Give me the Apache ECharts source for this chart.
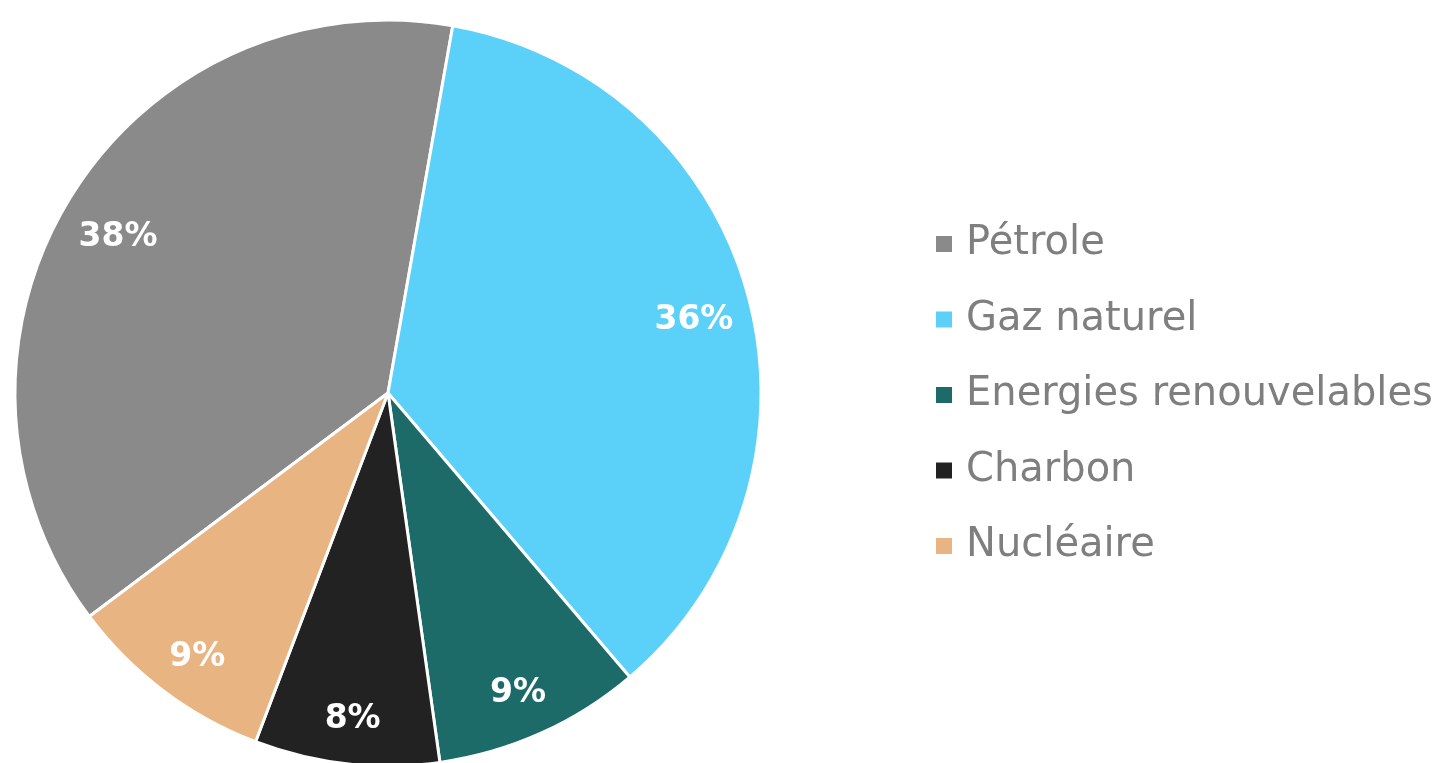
<!DOCTYPE html>
<html>
<head>
<meta charset="utf-8">
<script src="https://cdn.jsdelivr.net/npm/echarts@6/dist/echarts.min.js"></script>
<style>
html,body{margin:0;padding:0;background:#fff;}
#chart{width:1452px;height:763px;}
</style>
</head>
<body>
<div id="chart"></div>
<script>
const categories = ['Pétrole', 'Gaz naturel', 'Energies renouvelables', 'Charbon', 'Nucléaire'];
const values = [38, 36, 9, 8, 9];
const colors = ['#8a8a8a', '#5bd0f9', '#1c6b69', '#222222', '#e8b482'];

const data = categories.map((c, i) => ({ name: c, value: values[i], itemStyle: { color: colors[i] } }));

const chart = echarts.init(document.getElementById('chart'));
chart.setOption({
  animation: false,
  legend: {
    orient: 'vertical',
    left: 929,
    top: 217,
    icon: 'rect',
    itemWidth: 18,
    itemHeight: 18,
    itemGap: 31.5,
    data: categories,
    textStyle: { fontFamily: 'DejaVu Sans', fontSize: 40, color: '#7f7f7f', lineHeight: 44, padding: [0, 0, 0, 8] }
  },
  series: [
    {
      type: 'pie',
      center: [388, 393],
      radius: [0, 373],
      startAngle: 216.8,
      clockwise: true,
      data: data,
      itemStyle: { borderColor: '#ffffff', borderWidth: 3 },
      label: { show: false },
      labelLine: { show: false },
      silent: true
    },
    {
      type: 'pie',
      center: [388, 393],
      radius: [255, 373],
      startAngle: 216.8,
      clockwise: true,
      silent: true,
      data: data.map(d => ({ name: d.name, value: d.value, itemStyle: { color: 'rgba(0,0,0,0)' } })),
      itemStyle: { borderWidth: 0 },
      label: {
        show: true,
        position: 'inside',
        formatter: '{s|}\n{v|{c}%}',
        rich: {
          s: { height: 22, lineHeight: 22 },
          v: {
            color: '#ffffff',
            fontFamily: 'DejaVu Sans',
            fontWeight: 'bold',
            fontSize: 33,
            lineHeight: 40
          }
        }
      },
      labelLine: { show: false }
    }
  ]
});
</script>
</body>
</html>
